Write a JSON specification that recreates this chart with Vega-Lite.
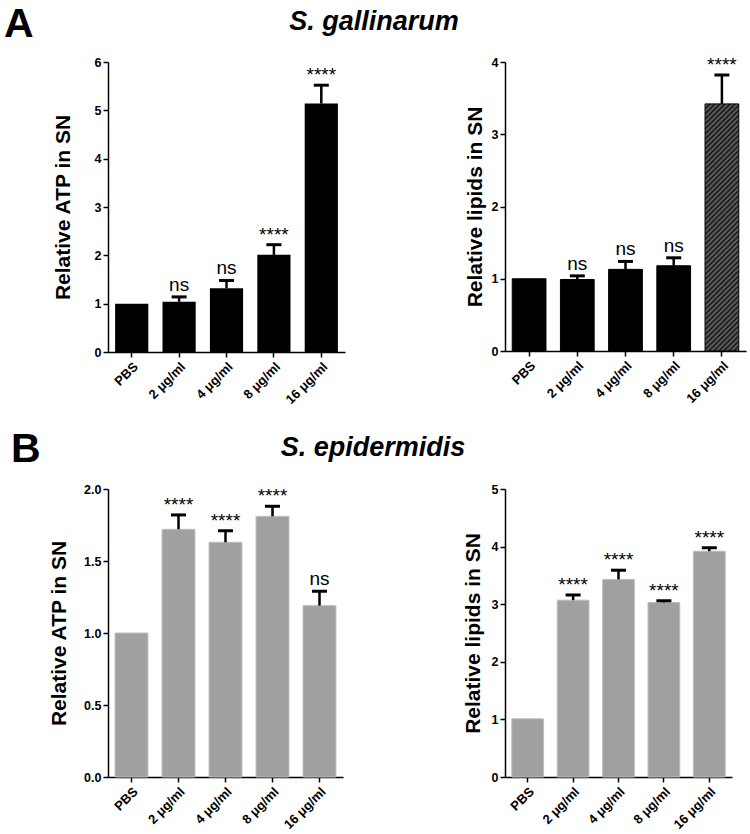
{
  "$schema": "https://vega.github.io/schema/vega-lite/v6.json",
  "description": "Relative ATP and lipids in supernatant, S. gallinarum (A) and S. epidermidis (B)",
  "background": "white",
  "padding": {"left": 4, "top": 4, "right": 2, "bottom": 4},
  "datasets": {
    "aAtp": [
      {"dose": "PBS", "v": 1.0, "hi": null, "sig": null},
      {"dose": "2 μg/ml", "v": 1.04, "hi": 1.14, "sig": "ns"},
      {"dose": "4 μg/ml", "v": 1.32, "hi": 1.48, "sig": "ns"},
      {"dose": "8 μg/ml", "v": 2.01, "hi": 2.22, "sig": "****"},
      {"dose": "16 μg/ml", "v": 5.14, "hi": 5.52, "sig": "****"}
    ],
    "aLip": [
      {"dose": "PBS", "v": 1.0, "hi": null, "sig": null},
      {"dose": "2 μg/ml", "v": 0.99, "hi": 1.04, "sig": "ns"},
      {"dose": "4 μg/ml", "v": 1.13, "hi": 1.24, "sig": "ns"},
      {"dose": "8 μg/ml", "v": 1.18, "hi": 1.29, "sig": "ns"},
      {"dose": "16 μg/ml", "v": 3.42, "hi": 3.82, "sig": "****"}
    ],
    "bAtp": [
      {"dose": "PBS", "v": 1.0, "hi": null, "sig": null},
      {"dose": "2 μg/ml", "v": 1.72, "hi": 1.82, "sig": "****"},
      {"dose": "4 μg/ml", "v": 1.63, "hi": 1.71, "sig": "****"},
      {"dose": "8 μg/ml", "v": 1.81, "hi": 1.88, "sig": "****"},
      {"dose": "16 μg/ml", "v": 1.19, "hi": 1.29, "sig": "ns"}
    ],
    "bLip": [
      {"dose": "PBS", "v": 1.01, "hi": null, "sig": null},
      {"dose": "2 μg/ml", "v": 3.07, "hi": 3.16, "sig": "****"},
      {"dose": "4 μg/ml", "v": 3.43, "hi": 3.59, "sig": "****"},
      {"dose": "8 μg/ml", "v": 3.03, "hi": 3.06, "sig": "****"},
      {"dose": "16 μg/ml", "v": 3.92, "hi": 3.98, "sig": "****"}
    ]
  },
  "config": {
    "view": {"stroke": null},
    "font": "Liberation Sans",
    "axis": {
      "grid": false,
      "domainColor": "black",
      "domainWidth": 1.5,
      "tickColor": "black",
      "tickWidth": 1.5,
      "tickSize": 5,
      "labelFont": "Liberation Sans",
      "labelFontWeight": "bold",
      "labelFontSize": 12.5,
      "labelColor": "black",
      "labelPadding": 2,
      "titleFont": "Liberation Sans",
      "titleFontSize": 21,
      "titleFontWeight": "bold",
      "titleColor": "black",
      "titlePadding": 14
    },
    "axisX": {"labelAngle": -45, "labelFontSize": 13, "labelPadding": 3, "title": null},
    "title": {"font": "Liberation Sans", "color": "black", "fontWeight": "bold", "baseline": "alphabetic", "frame": "group", "anchor": "start"}
  },
  "columns": 2,
  "bounds": "flush",
  "spacing": {"row": 137, "column": 160},
  "concat": [
    {
      "width": 237,
      "height": 290,
      "data": {"name": "aAtp"},
      "title": {"text": "A", "fontSize": 41, "dx": -104, "offset": 10},
      "encoding": {
        "x": {"field": "dose", "type": "nominal", "sort": null, "scale": {"paddingInner": 0.3, "paddingOuter": 0.15}},
        "y": {"field": "v", "type": "quantitative", "title": "Relative ATP in SN", "scale": {"domain": [0, 6]}, "axis": {"values": [0, 1, 2, 3, 4, 5, 6], "titlePadding": 21}}
      },
      "layer": [
        {"mark": {"type": "bar", "color": "black"}},
        {"transform": [{"filter": "isValid(datum.hi)"}], "mark": {"type": "rule", "color": "black", "strokeWidth": 2.5}, "encoding": {"y2": {"field": "hi"}}},
        {"transform": [{"filter": "isValid(datum.hi)"}], "mark": {"type": "tick", "color": "black", "opacity": 1, "thickness": 3, "size": 15}, "encoding": {"y": {"field": "hi", "type": "quantitative", "title": "Relative ATP in SN"}}},
        {"transform": [{"filter": "datum.sig === 'ns'"}], "mark": {"type": "text", "fontSize": 19, "dy": -6, "baseline": "alphabetic", "color": "black"}, "encoding": {"y": {"field": "hi", "type": "quantitative", "title": "Relative ATP in SN"}, "text": {"field": "sig"}}},
        {"transform": [{"filter": "datum.sig === '****'"}], "mark": {"type": "text", "fontSize": 19, "dy": -4, "baseline": "alphabetic", "color": "black"}, "encoding": {"y": {"field": "hi", "type": "quantitative", "title": "Relative ATP in SN"}, "text": {"field": "sig"}}}
      ]
    },
    {
      "width": 241,
      "height": 289,
      "data": {"name": "aLip"},
      "title": {"text": "S. gallinarum", "fontSize": 27, "fontStyle": "italic", "align": "center", "dx": -131, "offset": 20},
      "encoding": {
        "x": {"field": "dose", "type": "nominal", "sort": null, "scale": {"paddingInner": 0.3, "paddingOuter": 0.15}},
        "y": {"field": "v", "type": "quantitative", "title": "Relative lipids in SN", "scale": {"domain": [0, 4]}, "axis": {"values": [0, 1, 2, 3, 4], "titlePadding": 6}}
      },
      "layer": [
        {
          "mark": {"type": "bar", "stroke": "black", "strokeWidth": 1},
          "encoding": {
            "color": {
              "condition": {
                "test": "datum.dose === '16 μg/ml'",
                "value": {
                  "gradient": "linear", "x1": 0, "y1": 0, "x2": 0.1524, "y2": 1.116,
                  "stops": [
                    {"offset": 0, "color": "#111111"}, {"offset": 0.0089, "color": "#6a6a6a"}, {"offset": 0.0179, "color": "#111111"}, {"offset": 0.0268, "color": "#6a6a6a"},
                    {"offset": 0.0357, "color": "#111111"}, {"offset": 0.0446, "color": "#6a6a6a"}, {"offset": 0.0536, "color": "#111111"}, {"offset": 0.0625, "color": "#6a6a6a"},
                    {"offset": 0.0714, "color": "#111111"}, {"offset": 0.0804, "color": "#6a6a6a"}, {"offset": 0.0893, "color": "#111111"}, {"offset": 0.0982, "color": "#6a6a6a"},
                    {"offset": 0.1071, "color": "#111111"}, {"offset": 0.1161, "color": "#6a6a6a"}, {"offset": 0.125, "color": "#111111"}, {"offset": 0.1339, "color": "#6a6a6a"},
                    {"offset": 0.1429, "color": "#111111"}, {"offset": 0.1518, "color": "#6a6a6a"}, {"offset": 0.1607, "color": "#111111"}, {"offset": 0.1696, "color": "#6a6a6a"},
                    {"offset": 0.1786, "color": "#111111"}, {"offset": 0.1875, "color": "#6a6a6a"}, {"offset": 0.1964, "color": "#111111"}, {"offset": 0.2054, "color": "#6a6a6a"},
                    {"offset": 0.2143, "color": "#111111"}, {"offset": 0.2232, "color": "#6a6a6a"}, {"offset": 0.2321, "color": "#111111"}, {"offset": 0.2411, "color": "#6a6a6a"},
                    {"offset": 0.25, "color": "#111111"}, {"offset": 0.2589, "color": "#6a6a6a"}, {"offset": 0.2679, "color": "#111111"}, {"offset": 0.2768, "color": "#6a6a6a"},
                    {"offset": 0.2857, "color": "#111111"}, {"offset": 0.2946, "color": "#6a6a6a"}, {"offset": 0.3036, "color": "#111111"}, {"offset": 0.3125, "color": "#6a6a6a"},
                    {"offset": 0.3214, "color": "#111111"}, {"offset": 0.3304, "color": "#6a6a6a"}, {"offset": 0.3393, "color": "#111111"}, {"offset": 0.3482, "color": "#6a6a6a"},
                    {"offset": 0.3571, "color": "#111111"}, {"offset": 0.3661, "color": "#6a6a6a"}, {"offset": 0.375, "color": "#111111"}, {"offset": 0.3839, "color": "#6a6a6a"},
                    {"offset": 0.3929, "color": "#111111"}, {"offset": 0.4018, "color": "#6a6a6a"}, {"offset": 0.4107, "color": "#111111"}, {"offset": 0.4196, "color": "#6a6a6a"},
                    {"offset": 0.4286, "color": "#111111"}, {"offset": 0.4375, "color": "#6a6a6a"}, {"offset": 0.4464, "color": "#111111"}, {"offset": 0.4554, "color": "#6a6a6a"},
                    {"offset": 0.4643, "color": "#111111"}, {"offset": 0.4732, "color": "#6a6a6a"}, {"offset": 0.4821, "color": "#111111"}, {"offset": 0.4911, "color": "#6a6a6a"},
                    {"offset": 0.5, "color": "#111111"}, {"offset": 0.5089, "color": "#6a6a6a"}, {"offset": 0.5179, "color": "#111111"}, {"offset": 0.5268, "color": "#6a6a6a"},
                    {"offset": 0.5357, "color": "#111111"}, {"offset": 0.5446, "color": "#6a6a6a"}, {"offset": 0.5536, "color": "#111111"}, {"offset": 0.5625, "color": "#6a6a6a"},
                    {"offset": 0.5714, "color": "#111111"}, {"offset": 0.5804, "color": "#6a6a6a"}, {"offset": 0.5893, "color": "#111111"}, {"offset": 0.5982, "color": "#6a6a6a"},
                    {"offset": 0.6071, "color": "#111111"}, {"offset": 0.6161, "color": "#6a6a6a"}, {"offset": 0.625, "color": "#111111"}, {"offset": 0.6339, "color": "#6a6a6a"},
                    {"offset": 0.6429, "color": "#111111"}, {"offset": 0.6518, "color": "#6a6a6a"}, {"offset": 0.6607, "color": "#111111"}, {"offset": 0.6696, "color": "#6a6a6a"},
                    {"offset": 0.6786, "color": "#111111"}, {"offset": 0.6875, "color": "#6a6a6a"}, {"offset": 0.6964, "color": "#111111"}, {"offset": 0.7054, "color": "#6a6a6a"},
                    {"offset": 0.7143, "color": "#111111"}, {"offset": 0.7232, "color": "#6a6a6a"}, {"offset": 0.7321, "color": "#111111"}, {"offset": 0.7411, "color": "#6a6a6a"},
                    {"offset": 0.75, "color": "#111111"}, {"offset": 0.7589, "color": "#6a6a6a"}, {"offset": 0.7679, "color": "#111111"}, {"offset": 0.7768, "color": "#6a6a6a"},
                    {"offset": 0.7857, "color": "#111111"}, {"offset": 0.7946, "color": "#6a6a6a"}, {"offset": 0.8036, "color": "#111111"}, {"offset": 0.8125, "color": "#6a6a6a"},
                    {"offset": 0.8214, "color": "#111111"}, {"offset": 0.8304, "color": "#6a6a6a"}, {"offset": 0.8393, "color": "#111111"}, {"offset": 0.8482, "color": "#6a6a6a"},
                    {"offset": 0.8571, "color": "#111111"}, {"offset": 0.8661, "color": "#6a6a6a"}, {"offset": 0.875, "color": "#111111"}, {"offset": 0.8839, "color": "#6a6a6a"},
                    {"offset": 0.8929, "color": "#111111"}, {"offset": 0.9018, "color": "#6a6a6a"}, {"offset": 0.9107, "color": "#111111"}, {"offset": 0.9196, "color": "#6a6a6a"},
                    {"offset": 0.9286, "color": "#111111"}, {"offset": 0.9375, "color": "#6a6a6a"}, {"offset": 0.9464, "color": "#111111"}, {"offset": 0.9554, "color": "#6a6a6a"},
                    {"offset": 0.9643, "color": "#111111"}, {"offset": 0.9732, "color": "#6a6a6a"}, {"offset": 0.9821, "color": "#111111"}, {"offset": 0.9911, "color": "#6a6a6a"},
                    {"offset": 1, "color": "#111111"}
                  ]
                }
              },
              "value": "black"
            }
          }
        },
        {"transform": [{"filter": "isValid(datum.hi)"}], "mark": {"type": "rule", "color": "black", "strokeWidth": 2.5}, "encoding": {"y2": {"field": "hi"}}},
        {"transform": [{"filter": "isValid(datum.hi)"}], "mark": {"type": "tick", "color": "black", "opacity": 1, "thickness": 3, "size": 15}, "encoding": {"y": {"field": "hi", "type": "quantitative", "title": "Relative lipids in SN"}}},
        {"transform": [{"filter": "datum.sig === 'ns'"}], "mark": {"type": "text", "fontSize": 19, "dy": -6, "baseline": "alphabetic", "color": "black"}, "encoding": {"y": {"field": "hi", "type": "quantitative", "title": "Relative lipids in SN"}, "text": {"field": "sig"}}},
        {"transform": [{"filter": "datum.sig === '****'"}], "mark": {"type": "text", "fontSize": 19, "dy": -4, "baseline": "alphabetic", "color": "black"}, "encoding": {"y": {"field": "hi", "type": "quantitative", "title": "Relative lipids in SN"}, "text": {"field": "sig"}}}
      ]
    },
    {
      "width": 235,
      "height": 288,
      "data": {"name": "bAtp"},
      "title": {"text": "B", "fontSize": 41, "dx": -97, "offset": 12},
      "encoding": {
        "x": {"field": "dose", "type": "nominal", "sort": null, "scale": {"paddingInner": 0.3, "paddingOuter": 0.15}},
        "y": {"field": "v", "type": "quantitative", "title": "Relative ATP in SN", "scale": {"domain": [0, 2]}, "axis": {"values": [0, 0.5, 1, 1.5, 2], "format": ".1f"}}
      },
      "layer": [
        {"mark": {"type": "bar", "color": "#a0a0a0", "stroke": "#bdbdbd", "strokeWidth": 1}},
        {"transform": [{"filter": "isValid(datum.hi)"}], "mark": {"type": "rule", "color": "black", "strokeWidth": 2.5}, "encoding": {"y2": {"field": "hi"}}},
        {"transform": [{"filter": "isValid(datum.hi)"}], "mark": {"type": "tick", "color": "black", "opacity": 1, "thickness": 3, "size": 15}, "encoding": {"y": {"field": "hi", "type": "quantitative", "title": "Relative ATP in SN"}}},
        {"transform": [{"filter": "datum.sig === 'ns'"}], "mark": {"type": "text", "fontSize": 19, "dy": -6, "baseline": "alphabetic", "color": "black"}, "encoding": {"y": {"field": "hi", "type": "quantitative", "title": "Relative ATP in SN"}, "text": {"field": "sig"}}},
        {"transform": [{"filter": "datum.sig === '****'"}], "mark": {"type": "text", "fontSize": 19, "dy": -4, "baseline": "alphabetic", "color": "black"}, "encoding": {"y": {"field": "hi", "type": "quantitative", "title": "Relative ATP in SN"}, "text": {"field": "sig"}}}
      ]
    },
    {
      "width": 227,
      "height": 288,
      "data": {"name": "bLip"},
      "title": {"text": "S. epidermidis", "fontSize": 27, "fontStyle": "italic", "align": "center", "dx": -132, "offset": 21},
      "encoding": {
        "x": {"field": "dose", "type": "nominal", "sort": null, "scale": {"paddingInner": 0.3, "paddingOuter": 0.15}},
        "y": {"field": "v", "type": "quantitative", "title": "Relative lipids in SN", "scale": {"domain": [0, 5]}, "axis": {"values": [0, 1, 2, 3, 4, 5], "titlePadding": 8}}
      },
      "layer": [
        {"mark": {"type": "bar", "color": "#a0a0a0", "stroke": "#bdbdbd", "strokeWidth": 1}},
        {"transform": [{"filter": "isValid(datum.hi)"}], "mark": {"type": "rule", "color": "black", "strokeWidth": 2.5}, "encoding": {"y2": {"field": "hi"}}},
        {"transform": [{"filter": "isValid(datum.hi)"}], "mark": {"type": "tick", "color": "black", "opacity": 1, "thickness": 3, "size": 15}, "encoding": {"y": {"field": "hi", "type": "quantitative", "title": "Relative lipids in SN"}}},
        {"transform": [{"filter": "datum.sig === 'ns'"}], "mark": {"type": "text", "fontSize": 19, "dy": -6, "baseline": "alphabetic", "color": "black"}, "encoding": {"y": {"field": "hi", "type": "quantitative", "title": "Relative lipids in SN"}, "text": {"field": "sig"}}},
        {"transform": [{"filter": "datum.sig === '****'"}], "mark": {"type": "text", "fontSize": 19, "dy": -4, "baseline": "alphabetic", "color": "black"}, "encoding": {"y": {"field": "hi", "type": "quantitative", "title": "Relative lipids in SN"}, "text": {"field": "sig"}}}
      ]
    }
  ]
}
